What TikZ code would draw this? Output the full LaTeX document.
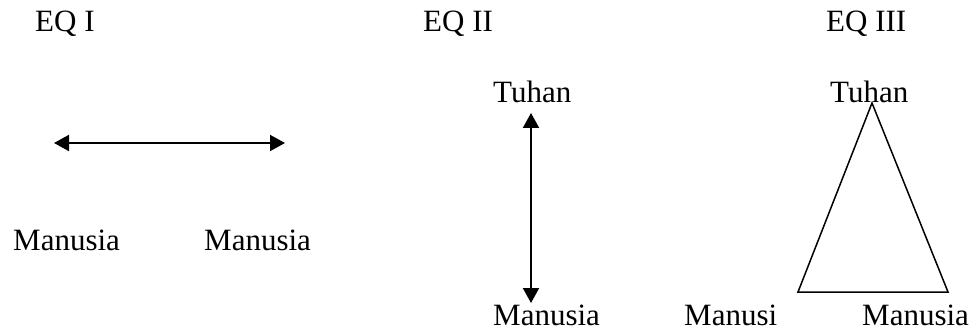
\documentclass[tikz,border=0pt]{standalone}
\usepackage{fontspec}
\setmainfont{Liberation Serif}
\usetikzlibrary{arrows.meta}
\begin{document}
\begin{tikzpicture}[x=1pt,y=-1pt,
  lbl/.style={inner sep=0pt,anchor=base west,font=\fontsize{31}{36}\selectfont},
  dbl/.style={line width=2pt,{Triangle[length=15pt,width=16pt]}-{Triangle[length=15pt,width=16pt]}},
  tri/.style={line width=1.5pt,line join=miter}]
\useasboundingbox (0,0) rectangle (977,331);
% titles
\node[lbl] (t1) at (35,32) {EQ I};
\node[lbl] (t2) at (423,32) {EQ II};
\node[lbl] (t3) at (826,32) {EQ III};
% EQ I
\coordinate (a1) at (54,143);
\coordinate (a2) at (285,143);
\draw[dbl] (a1) -- (a2);
\node[lbl] (m1) at (13,251) {Manusia};
\node[lbl] (m2) at (204,251) {Manusia};
% EQ II
\node[lbl] (tu2) at (493,103) {Tuhan};
\coordinate (b1) at (531,113);
\coordinate (b2) at (531,303);
\draw[dbl] (b1) -- (b2);
\node[lbl] (m3) at (493,325) {Manusia};
% EQ III
\node[lbl] (tu3) at (830,103) {Tuhan};
\coordinate (c1) at (872,103);
\coordinate (c2) at (798,292);
\coordinate (c3) at (948,292);
\draw[tri] (c1) -- (c2) -- (c3) -- cycle;
\node[lbl] (m4) at (684,325) {Manusi};
\node[lbl] (m5) at (862,325) {Manusia};
\end{tikzpicture}
\end{document}
